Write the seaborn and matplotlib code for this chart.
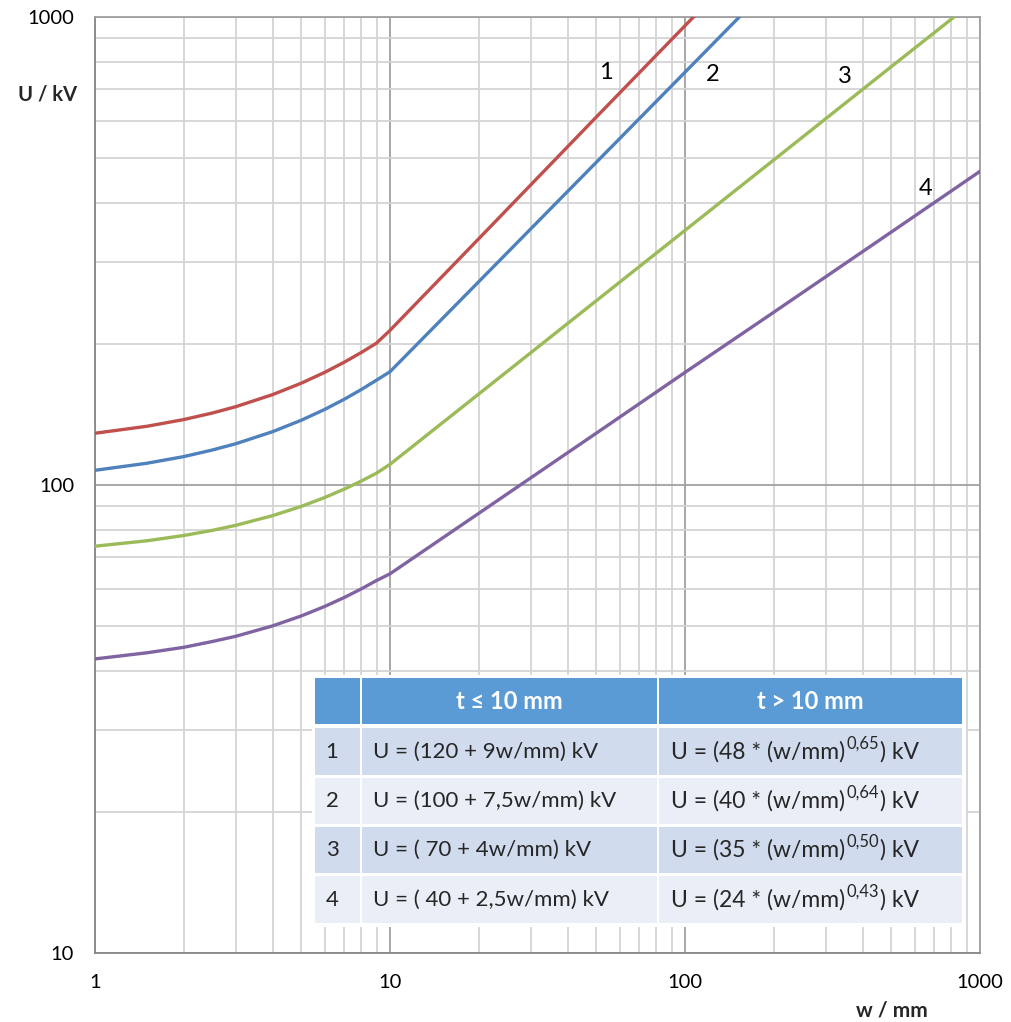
import numpy as np
import pandas as pd
import matplotlib
matplotlib.use("Agg")
import matplotlib.pyplot as plt
import seaborn as sns
from matplotlib.patches import Rectangle
from matplotlib.ticker import LogLocator, NullFormatter, FixedLocator, FixedFormatter

# ---------------- data ----------------
w1 = [1, 1.5, 2, 2.5, 3, 4, 5, 6, 7, 8, 9, 10, 20, 50, 100, 120]
u1 = [129, 133.5, 138, 142.5, 147, 156, 165, 174, 183, 192, 201, 214, 336, 611, 958, 1078]
w2 = [1, 1.5, 2, 2.5, 3, 4, 5, 6, 7, 8, 9, 10, 20, 50, 100, 160]
u2 = [107.5, 111.3, 115, 118.8, 122.5, 130, 137.5, 145, 152.5, 160, 167.5, 174.6, 272, 489, 762, 1030]
w3 = [1, 1.5, 2, 2.5, 3, 4, 5, 6, 7, 8, 9, 10, 20, 50, 100, 200, 500, 850]
u3 = [74, 76, 78, 80, 82, 86, 90, 94, 98, 102, 106, 110.7, 156.5, 247.5, 350, 495, 783, 1020]
w4 = [1, 1.5, 2, 2.5, 3, 4, 5, 6, 7, 8, 9, 10, 20, 50, 100, 200, 500, 1000]
u4 = [42.5, 43.8, 45, 46.3, 47.5, 50, 52.5, 55, 57.5, 60, 62.5, 64.6, 87, 129, 174, 234, 347, 468]

curve_names = ["1", "2", "3", "4"]
curve_colors = ["#C0504D", "#4F81BD", "#9BBB59", "#8064A2"]
label_pos_w = [54, 124, 348, 656]
label_pos_u = [760, 752, 745, 431]

x_ticks = [1, 10, 100, 1000]
x_tick_labels = ["1", "10", "100", "1000"]
y_ticks = [10, 100, 1000]
y_tick_labels = ["10", "100", "1000"]

table_header = ["", "t ≤ 10 mm", "t > 10 mm"]
table_nums = ["1", "2", "3", "4"]
table_left = ["U = (120 + 9w/mm) kV", "U = (100 + 7,5w/mm) kV",
              "U = ( 70 + 4w/mm) kV", "U = ( 40 + 2,5w/mm) kV"]
table_coef = ["48", "40", "35", "24"]
table_exp = ["0,65", "0,64", "0,50", "0,43"]

# ---------------- build frame ----------------
frames = []
for name, ws, us in zip(curve_names, [w1, w2, w3, w4], [u1, u2, u3, u4]):
    frames.append(pd.DataFrame({"w": ws, "U": us, "curve": name}))
df = pd.concat(frames, ignore_index=True)

sns.set_style("white")
FONT = "Lato"
plt.rcParams["font.family"] = [FONT, "DejaVu Sans"]

W, H = 1011, 1022
fig = plt.figure(figsize=(W / 100, H / 100), dpi=100)
fig.patch.set_facecolor("white")

def fx(px):
    return px / W

def fy(py):
    return 1 - py / H

ax = fig.add_axes([fx(95), fy(953), fx(980) - fx(95), fy(17) - fy(953)])
ax.set_xscale("log")
ax.set_yscale("log")

sns.lineplot(data=df, x="w", y="U", hue="curve", palette=dict(zip(curve_names, curve_colors)),
             sort=False, estimator=None, legend=False, linewidth=2.4, ax=ax, zorder=3)

ax.set_xlim(1, 1000)
ax.set_ylim(10, 1000)

minor_col = "#D4D4D4"
major_col = "#A0A0A0"
ax.xaxis.set_major_locator(FixedLocator(x_ticks))
ax.xaxis.set_major_formatter(FixedFormatter(x_tick_labels))
ax.yaxis.set_major_locator(FixedLocator(y_ticks))
ax.yaxis.set_major_formatter(FixedFormatter(y_tick_labels))
ax.xaxis.set_minor_locator(LogLocator(base=10, subs=np.arange(2, 10)))
ax.yaxis.set_minor_locator(LogLocator(base=10, subs=np.arange(2, 10)))
ax.xaxis.set_minor_formatter(NullFormatter())
ax.yaxis.set_minor_formatter(NullFormatter())
ax.grid(True, which="minor", color=minor_col, linewidth=1.3, zorder=0)
ax.grid(True, which="major", color=major_col, linewidth=1.3, zorder=0)
ax.set_axisbelow(True)
ax.tick_params(which="major", length=7, width=1.2, color="#888888", direction="out",
               labelsize=14.5, labelcolor="#000000", pad=8)
ax.tick_params(which="minor", length=0)
for s in ax.spines.values():
    s.set_color("#A0A0A0")
    s.set_linewidth(1.3)
ax.spines["left"].set_color("#888888")
ax.spines["bottom"].set_color("#888888")
ax.set_xlabel("")
ax.set_ylabel("")

for name, xw, yu in zip(curve_names, label_pos_w, label_pos_u):
    ax.text(xw, yu, name, fontsize=17, ha="center", va="center", color="#000000", zorder=5)

fig.text(fx(18), fy(94), "U / kV", fontsize=14.5, fontweight="bold", ha="left", va="center")
fig.text(fx(892), fy(1010), "w / mm", fontsize=15, fontweight="bold", ha="center", va="center")

# ---------------- table ----------------
fig.add_artist(Rectangle((fx(312), fy(927)), fx(966) - fx(312), fy(675) - fy(927),
                         transform=fig.transFigure, facecolor="white", edgecolor="none", zorder=6))
col_x = [(315, 360), (362, 657), (659, 962)]
row_y = [(678, 724), (728, 775), (778, 824), (827, 873), (876, 923)]
row_colors = ["#5B9BD5", "#D0DBEE", "#E9EEF7", "#D0DBEE", "#E9EEF7"]
for r, (y0, y1) in enumerate(row_y):
    for (x0, x1) in col_x:
        fig.add_artist(Rectangle((fx(x0), fy(y1)), fx(x1) - fx(x0), fy(y0) - fy(y1),
                                 transform=fig.transFigure, facecolor=row_colors[r],
                                 edgecolor="none", zorder=7))
TFS = 16
RFS = 16.5
for c in (1, 2):
    xc = (col_x[c][0] + col_x[c][1]) / 2
    yc = (row_y[0][0] + row_y[0][1]) / 2
    fig.text(fx(xc), fy(yc), table_header[c], color="white", fontsize=17, fontweight="bold",
             ha="center", va="center", zorder=8)

renderer = fig.canvas.get_renderer()
for i in range(4):
    y0, y1 = row_y[i + 1]
    yc = (y0 + y1) / 2
    fig.text(fx(332), fy(yc), table_nums[i], fontsize=TFS, ha="center", va="center", zorder=8)
    fig.text(fx(373), fy(yc), table_left[i], fontsize=TFS, ha="left", va="center", zorder=8)
    t1 = fig.text(fx(671), fy(yc), "U = (" + table_coef[i] + " * (w/mm)", fontsize=RFS,
                  ha="left", va="center", zorder=8)
    bb = t1.get_window_extent(renderer)
    t2 = fig.text(bb.x1 / W + 0.001, fy(yc - 8), table_exp[i], fontsize=RFS * 0.72,
                  ha="left", va="center", zorder=8)
    bb2 = t2.get_window_extent(renderer)
    fig.text(bb2.x1 / W + 0.001, fy(yc), ") kV", fontsize=RFS, ha="left", va="center", zorder=8)

fig.savefig("out.png", dpi=100)
